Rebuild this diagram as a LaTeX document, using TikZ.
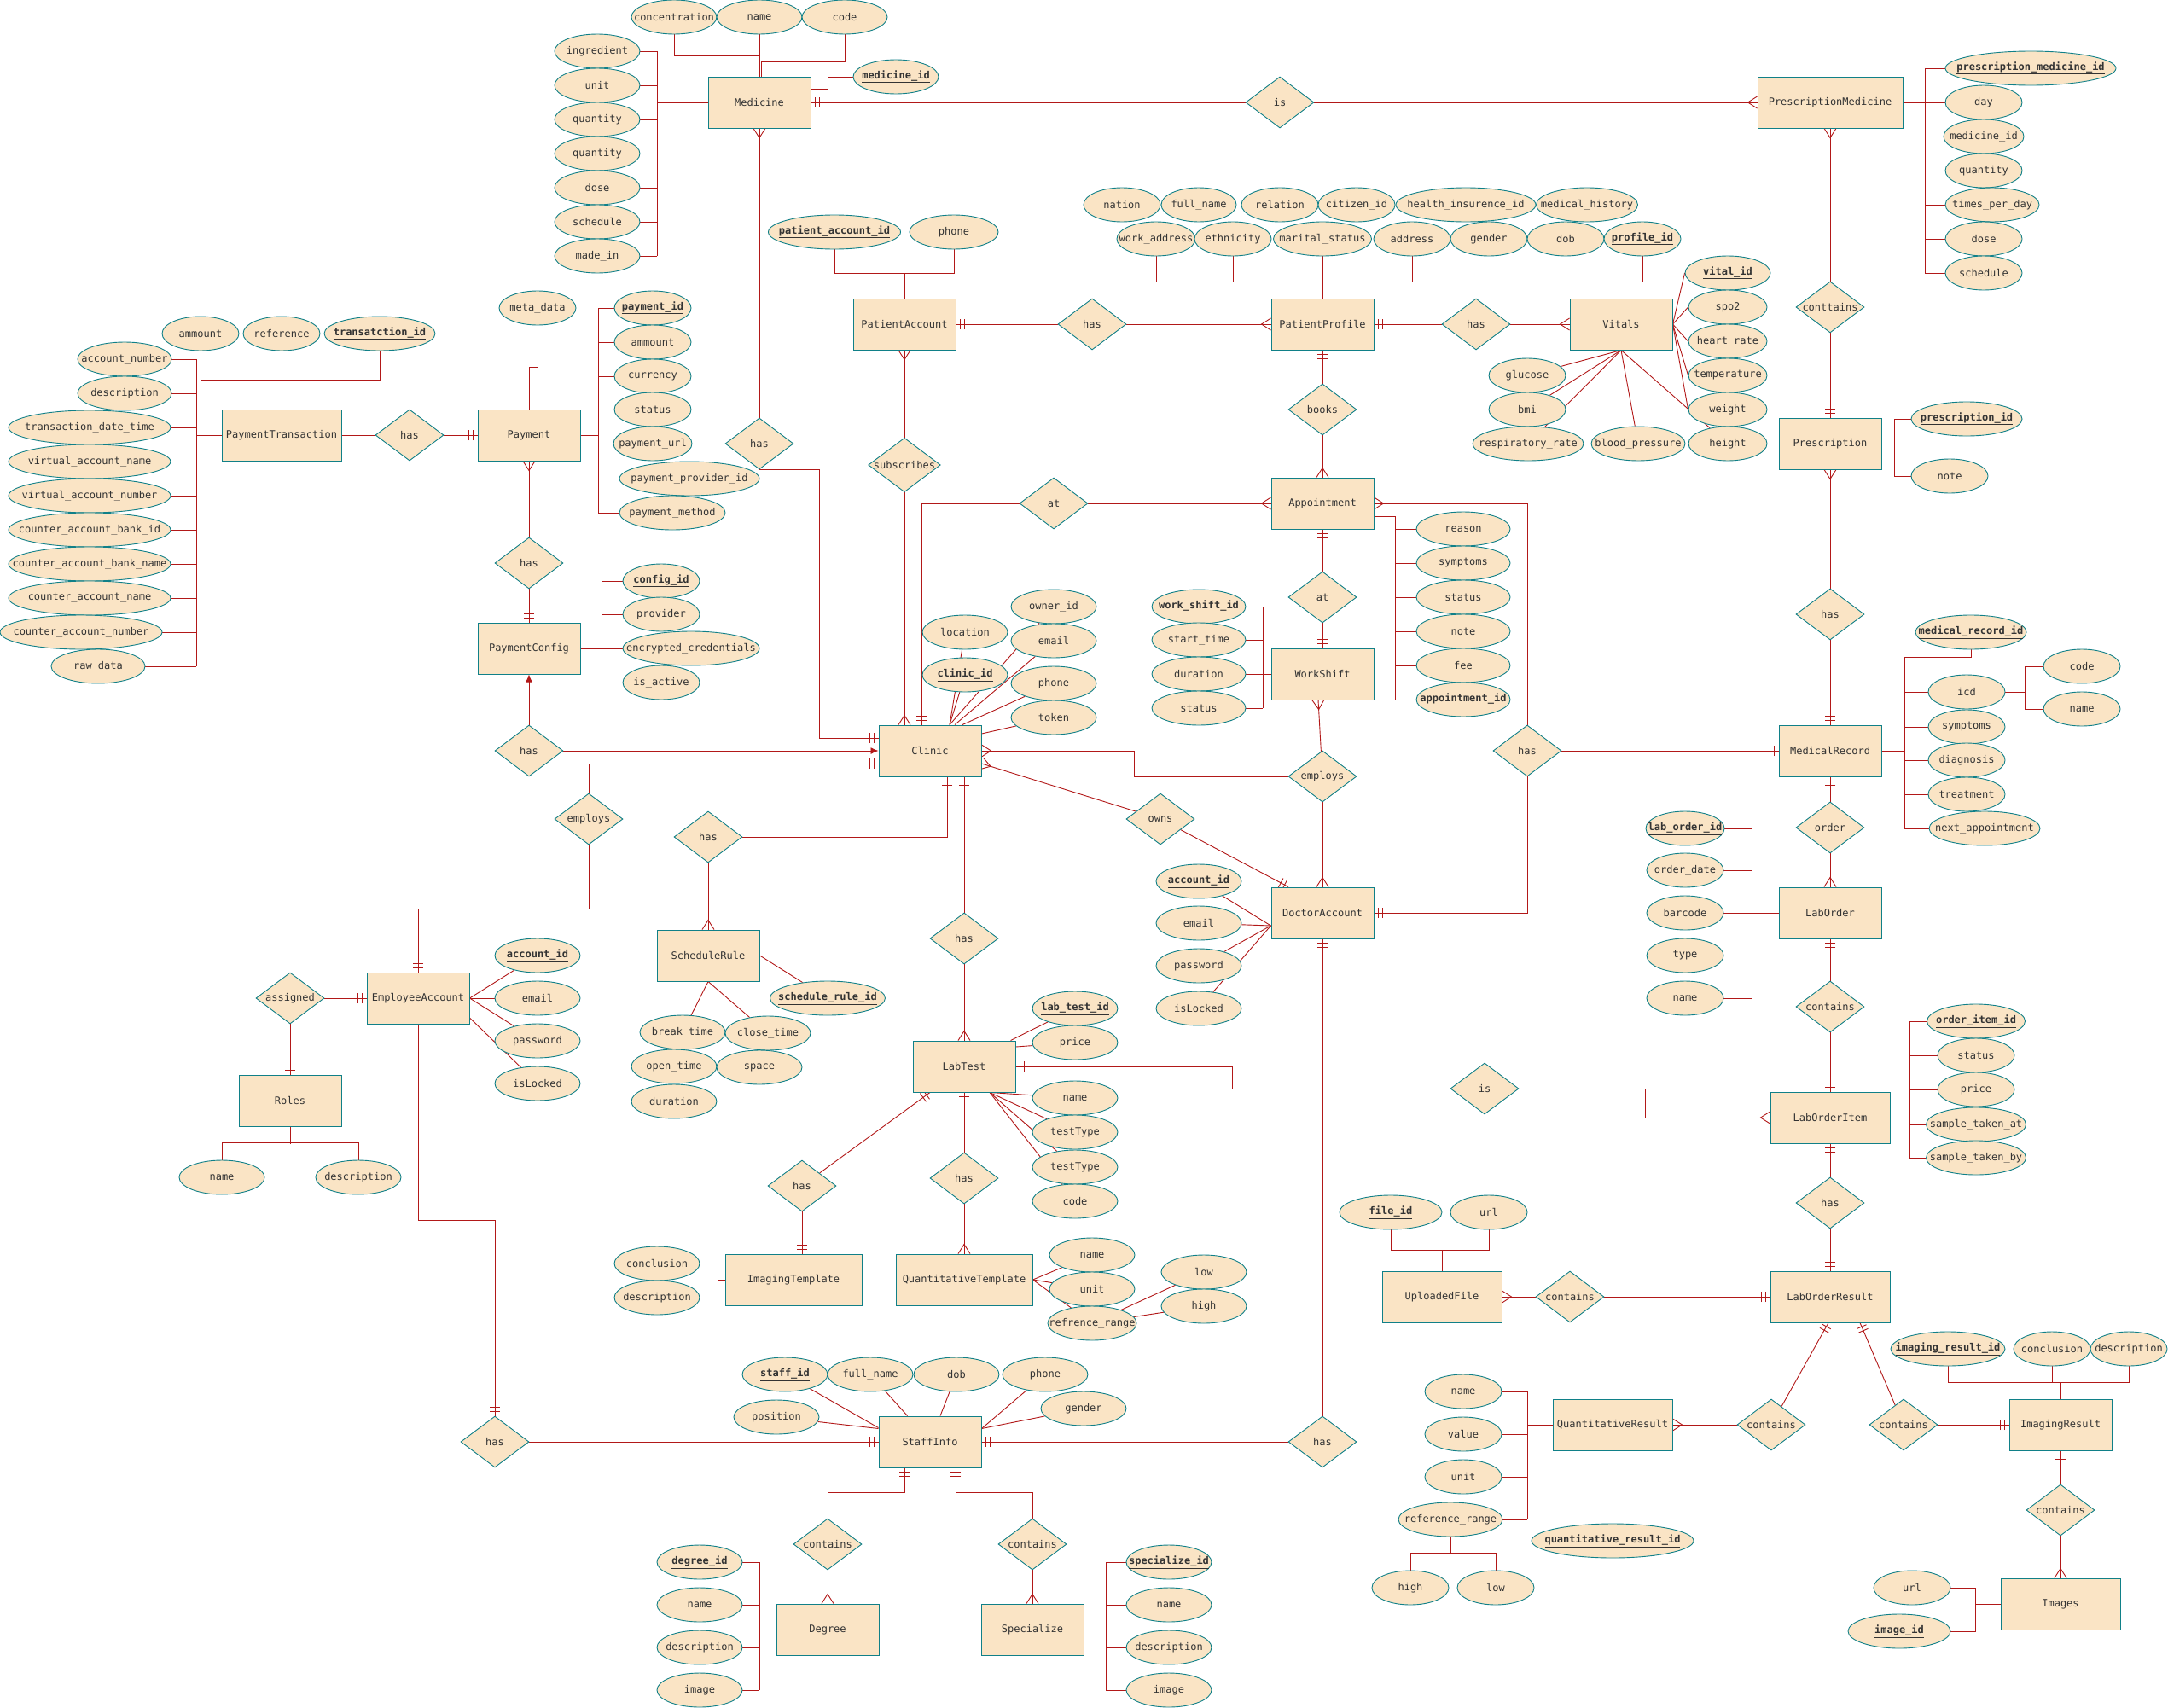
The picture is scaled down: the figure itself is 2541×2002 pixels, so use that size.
\documentclass[tikz,border=0pt]{standalone}
\usepackage{fontspec}
\usepackage{tikz}
\newfontfamily\ermono{DejaVu Sans Mono}
\definecolor{erfill}{RGB}{250,228,197}
\definecolor{erteal}{RGB}{16,128,136}
\definecolor{erred}{RGB}{178,24,24}
\definecolor{ertext}{RGB}{51,51,51}
\usetikzlibrary{shapes.geometric, arrows.meta, backgrounds}

\newcommand{\tx}[1]{\hbox to 0pt{\hss#1\hss}}
\newcommand{\pk}[1]{\underline{\textbf{#1}}}

% one and only one
\pgfdeclarearrow{
  name = erone,
  setup code = {
    \pgfarrowssettipend{0pt}
    \pgfarrowssetlineend{0pt}
    \pgfarrowssetbackend{-12pt}
  },
  drawing code = {
    \pgfsetdash{}{0pt}
    \pgfpathmoveto{\pgfqpoint{-5pt}{-6pt}}
    \pgfpathlineto{\pgfqpoint{-5pt}{6pt}}
    \pgfpathmoveto{\pgfqpoint{-10pt}{-6pt}}
    \pgfpathlineto{\pgfqpoint{-10pt}{6pt}}
    \pgfusepathqstroke
  }
}
% many
\pgfdeclarearrow{
  name = ermany,
  setup code = {
    \pgfarrowssettipend{0pt}
    \pgfarrowssetlineend{0pt}
    \pgfarrowssetbackend{-12pt}
  },
  drawing code = {
    \pgfsetdash{}{0pt}
    \pgfpathmoveto{\pgfqpoint{0pt}{-7pt}}
    \pgfpathlineto{\pgfqpoint{-11pt}{0pt}}
    \pgfpathlineto{\pgfqpoint{0pt}{7pt}}
    \pgfusepathqstroke
  }
}

\begin{document}
\begin{tikzpicture}[x=1pt, y=-1pt,
    every node/.style={font=\ermono\fontsize{12pt}{14pt}\selectfont, text=ertext},
    ent/.style={rectangle, draw=erteal, fill=erfill, line width=1pt, minimum width=120, minimum height=60, inner sep=2pt},
    attr/.style={ellipse, draw=erteal, fill=erfill, line width=0.9pt, minimum width=90, minimum height=40, inner sep=0pt},
    rel/.style={diamond, aspect=1.333, draw=erteal, fill=erfill, line width=0.9pt, minimum width=80, minimum height=60, inner sep=0pt},
    ln/.style={draw=erred, line width=0.9pt},
    toarr/.style={-{Latex[length=9pt, width=8pt]}}]
    \path[use as bounding box] (0,0) rectangle (2541,2002);

    % Entities
    \node[ent] (med) at (890,120) {Medicine};
    \node[ent, minimum width=170] (pm) at (2145,120) {PrescriptionMedicine};
    \node[ent] (presc) at (2145,520) {Prescription};
    \node[ent] (pacc) at (1060,380) {PatientAccount};
    \node[ent] (pprof) at (1550,380) {PatientProfile};
    \node[ent] (vit) at (1900,380) {Vitals};
    \node[ent] (appt) at (1550,590) {Appointment};
    \node[ent] (ws) at (1550,790) {WorkShift};
    \node[ent] (clinic) at (1090,880) {Clinic};
    \node[ent] (docacc) at (1550,1070) {DoctorAccount};
    \node[ent, minimum width=140] (ptx) at (330,510) {PaymentTransaction};
    \node[ent] (pay) at (620,510) {Payment};
    \node[ent] (paycfg) at (620,760) {PaymentConfig};
    \node[ent] (emp) at (490,1170) {EmployeeAccount};
    \node[ent] (roles) at (340,1290) {Roles};
    \node[ent] (srule) at (830,1120) {ScheduleRule};
    \node[ent] (labtest) at (1130,1250) {LabTest};
    \node[ent, minimum width=160] (imgT) at (930,1500) {ImagingTemplate};
    \node[ent, minimum width=160] (qtT) at (1130,1500) {QuantitativeTemplate};
    \node[ent] (staff) at (1090,1690) {StaffInfo};
    \node[ent] (deg) at (970,1910) {Degree};
    \node[ent] (spec) at (1210,1910) {Specialize};
    \node[ent] (mrec) at (2145,880) {MedicalRecord};
    \node[ent] (lord) at (2145,1070) {LabOrder};
    \node[ent, minimum width=140] (loi) at (2145,1310) {LabOrderItem};
    \node[ent, minimum width=140] (lres) at (2145,1520) {LabOrderResult};
    \node[ent, minimum width=140] (upf) at (1690,1520) {UploadedFile};
    \node[ent, minimum width=140] (qres) at (1890,1670) {QuantitativeResult};
    \node[ent] (ires) at (2415,1670) {ImagingResult};
    \node[ent, minimum width=140] (imgs) at (2415,1880) {Images};

    % Relationships
    \node[rel] (isPM) at (1500,120) {is};
    \node[rel] (hasMC) at (890,520) {has};
    \node[rel] (ctPM) at (2145,360) {conttains};
    \node[rel] (hasPR) at (2145,720) {has};
    \node[rel] (hasPP) at (1280,380) {has};
    \node[rel] (hasV) at (1730,380) {has};
    \node[rel] (books) at (1550,480) {books};
    \node[rel] (subs) at (1060,545) {subscribes};
    \node[rel] (atCA) at (1235,590) {at};
    \node[rel] (atWS) at (1550,700) {at};
    \node[rel] (empD) at (1550,910) {employs};
    \node[rel] (owns) at (1360,960) {owns};
    \node[rel] (hasMR) at (1790,880) {has};
    \node[rel] (hasSD) at (1550,1690) {has};
    \node[rel] (hasPT) at (480,510) {has};
    \node[rel] (hasPy) at (620,660) {has};
    \node[rel] (hasPC) at (620,880) {has};
    \node[rel] (empE) at (690,960) {employs};
    \node[rel] (hasSR) at (830,981) {has};
    \node[rel] (asg) at (340,1170) {assigned};
    \node[rel] (hasES) at (580,1690) {has};
    \node[rel] (hasLT) at (1130,1100) {has};
    \node[rel] (isLT) at (1740,1276) {is};
    \node[rel] (hasIT) at (940,1390) {has};
    \node[rel] (hasQT) at (1130,1381) {has};
    \node[rel] (ctDeg) at (970,1810) {contains};
    \node[rel] (ctSp) at (1210,1810) {contains};
    \node[rel] (ordD) at (2145,970) {order};
    \node[rel] (ctLO) at (2145,1180) {contains};
    \node[rel] (hasLR) at (2145,1410) {has};
    \node[rel] (ctUF) at (1840,1520) {contains};
    \node[rel] (ctQR) at (2076,1670) {contains};
    \node[rel] (ctIR) at (2231,1670) {contains};
    \node[rel] (ctIm) at (2415,1770) {contains};

    % Medicine attributes
    \foreach \nm/\lab/\x in {mc1/concentration/790, mc2/name/890, mc3/code/990}
        \node[attr, minimum width=100] (\nm) at (\x,20) {\tx{\lab}};
    \node[attr, minimum width=100] (mid) at (1050,90) {\tx{\pk{medicine\_id}}};
    \foreach \nm/\lab/\y in {ml1/ingredient/60, ml2/unit/100, ml3/quantity/140, ml4/quantity/180, ml5/dose/220, ml6/schedule/260, ml7/made\_in/300}
        \node[attr, minimum width=100] (\nm) at (700,\y) {\tx{\lab}};

    % PrescriptionMedicine / Prescription attributes
    \node[attr, minimum width=200] (pa1) at (2380,80) {\tx{\pk{prescription\_medicine\_id}}};
    \foreach \nm/\lab/\x/\y/\w in {pa2/day/2325/120/90, pa3/medicine\_id/2325/160/94, pa4/quantity/2325/200/90, pa5/times\_per\_day/2335/240/110, pa6/dose/2325/280/90, pa7/schedule/2325/320/90}
        \node[attr, minimum width=\w] (\nm) at (\x,\y) {\tx{\lab}};
    \node[attr, minimum width=130] (pr1) at (2305,491) {\tx{\pk{prescription\_id}}};
    \node[attr] (pr2) at (2285,558) {\tx{note}};

    % Patient attributes
    \node[attr, minimum width=155] (paid) at (978,272) {\tx{\pk{patient\_account\_id}}};
    \node[attr, minimum width=104] (paph) at (1118,272) {\tx{phone}};
    \foreach \nm/\lab/\x/\w in {pf1/nation/1315/90, pf2/full\_name/1405/88, pf3/relation/1500/90, pf4/citizen\_id/1590/90, pf5/health\_insurence\_id/1718/164, pf6/medical\_history/1860/119}
        \node[attr, minimum width=\w] (\nm) at (\x,240) {\tx{\lab}};
    \foreach \nm/\lab/\x/\w in {pg1/work\_address/1355/92, pg2/ethnicity/1445/90, pg3/marital\_status/1550/115, pg4/address/1655/90, pg5/gender/1745/90, pg6/dob/1835/90}
        \node[attr, minimum width=\w] (\nm) at (\x,280) {\tx{\lab}};
    \node[attr] (pg7) at (1925,280) {\tx{\pk{profile\_id}}};

    % Vitals attributes
    \node[attr, minimum width=100] (v1) at (2025,320) {\tx{\pk{vital\_id}}};
    \foreach \nm/\lab/\y in {v2/spo2/360, v3/heart\_rate/400, v4/temperature/440, v5/weight/480, v6/height/520}
        \node[attr, minimum width=92] (\nm) at (2025,\y) {\tx{\lab}};
    \foreach \nm/\lab/\x/\y/\w in {v7/glucose/1790/440/90, v8/bmi/1790/480/90, v9/respiratory\_rate/1791/520/130, v10/blood\_pressure/1920/520/110}
        \node[attr, minimum width=\w] (\nm) at (\x,\y) {\tx{\lab}};

    % Appointment / WorkShift attributes
    \foreach \nm/\lab/\y in {ap1/reason/620, ap2/symptoms/660, ap3/status/700, ap4/note/740, ap5/fee/780}
        \node[attr, minimum width=110] (\nm) at (1715,\y) {\tx{\lab}};
    \node[attr, minimum width=110] (ap6) at (1715,820) {\tx{\pk{appointment\_id}}};
    \node[attr, minimum width=110] (ws1) at (1405,711) {\tx{\pk{work\_shift\_id}}};
    \foreach \nm/\lab/\y in {ws2/start\_time/750, ws3/duration/790, ws4/status/830}
        \node[attr, minimum width=110] (\nm) at (1405,\y) {\tx{\lab}};

    % Clinic / DoctorAccount attributes
    \node[attr, minimum width=100] (cl1) at (1131,741) {\tx{location}};
    \node[attr, minimum width=100] (cl2) at (1131,791) {\tx{\pk{clinic\_id}}};
    \foreach \nm/\lab/\y in {cl3/owner\_id/711, cl4/email/751, cl5/phone/801, cl6/token/841}
        \node[attr, minimum width=100] (\nm) at (1235,\y) {\tx{\lab}};
    \node[attr, minimum width=100] (da1) at (1405,1033) {\tx{\pk{account\_id}}};
    \foreach \nm/\lab/\y in {da2/email/1082, da3/password/1132, da4/isLocked/1182}
        \node[attr, minimum width=100] (\nm) at (1405,\y) {\tx{\lab}};

    % Payment attributes
    \node[attr] (pt1) at (235,391) {\tx{ammount}};
    \node[attr] (pt2) at (330,391) {\tx{reference}};
    \node[attr, minimum width=130] (pt3) at (445,391) {\tx{\pk{transatction\_id}}};
    \foreach \nm/\lab/\x/\y/\w in {pl1/account\_number/146/421/110, pl2/description/146/461/110, pl3/transaction\_date\_time/105/501/190, pl4/virtual\_account\_name/105/541/190, pl5/virtual\_account\_number/105/581/190, pl6/counter\_account\_bank\_id/105/621/190, pl7/counter\_account\_bank\_name/105/661/190, pl8/counter\_account\_name/105/701/190, pl9/counter\_account\_number/95/741/190, pl10/raw\_data/115/781/110}
        \node[attr, minimum width=\w] (\nm) at (\x,\y) {\tx{\lab}};
    \node[attr] (py0) at (630,361) {\tx{meta\_data}};
    \node[attr] (py1) at (765,361) {\tx{\pk{payment\_id}}};
    \foreach \nm/\lab/\x/\y/\w in {py2/ammount/765/401/90, py3/currency/765/441/90, py4/status/765/480/90, py5/payment\_url/765/520/92, py6/payment\_provider\_id/808/561/164, py7/payment\_method/788/601/124}
        \node[attr, minimum width=\w] (\nm) at (\x,\y) {\tx{\lab}};
    \node[attr] (pc1) at (775,681) {\tx{\pk{config\_id}}};
    \foreach \nm/\lab/\x/\y/\w in {pc2/provider/775/720/90, pc3/encrypted\_credentials/810/760/160, pc4/is\_active/775/800/90}
        \node[attr, minimum width=\w] (\nm) at (\x,\y) {\tx{\lab}};

    % EmployeeAccount / Roles / ScheduleRule attributes
    \node[attr, minimum width=100] (ea1) at (630,1120) {\tx{\pk{account\_id}}};
    \foreach \nm/\lab/\y in {ea2/email/1170, ea3/password/1220, ea4/isLocked/1270}
        \node[attr, minimum width=100] (\nm) at (630,\y) {\tx{\lab}};
    \node[attr, minimum width=100] (ro1) at (260,1380) {\tx{name}};
    \node[attr, minimum width=100] (ro2) at (420,1380) {\tx{description}};
    \node[attr, minimum width=135] (sr1) at (970,1170) {\tx{\pk{schedule\_rule\_id}}};
    \foreach \nm/\lab/\x/\y in {sr2/break\_time/800/1210, sr3/close\_time/900/1211, sr4/open\_time/790/1250, sr5/space/890/1251, sr6/duration/790/1291}
        \node[attr, minimum width=100] (\nm) at (\x,\y) {\tx{\lab}};

    % LabTest and templates
    \node[attr, minimum width=100] (lt1) at (1260,1182) {\tx{\pk{lab\_test\_id}}};
    \foreach \nm/\lab/\y in {lt2/price/1222, lt3/name/1287, lt4/testType/1327, lt5/testType/1368, lt6/code/1408}
        \node[attr, minimum width=100] (\nm) at (1260,\y) {\tx{\lab}};
    \node[attr, minimum width=100] (im1) at (770,1481) {\tx{conclusion}};
    \node[attr, minimum width=100] (im2) at (770,1521) {\tx{description}};
    \foreach \nm/\lab/\x/\y/\w in {qt1/name/1280/1471/100, qt2/unit/1280/1511/100, qt3/refrence\_range/1280/1551/104, qt4/low/1411/1491/100, qt5/high/1411/1531/100}
        \node[attr, minimum width=\w] (\nm) at (\x,\y) {\tx{\lab}};

    % StaffInfo / Degree / Specialize attributes
    \node[attr, minimum width=100] (st1) at (920,1611) {\tx{\pk{staff\_id}}};
    \foreach \nm/\lab/\x/\y in {st2/full\_name/1020/1611, st3/dob/1121/1611, st4/phone/1225/1611, st5/gender/1270/1651, st6/position/910/1661}
        \node[attr, minimum width=100] (\nm) at (\x,\y) {\tx{\lab}};
    \node[attr, minimum width=100] (dg1) at (820,1831) {\tx{\pk{degree\_id}}};
    \foreach \nm/\lab/\y in {dg2/name/1881, dg3/description/1931, dg4/image/1981}
        \node[attr, minimum width=100] (\nm) at (820,\y) {\tx{\lab}};
    \node[attr, minimum width=100] (sp1) at (1370,1831) {\tx{\pk{specialize\_id}}};
    \foreach \nm/\lab/\y in {sp2/name/1881, sp3/description/1931, sp4/image/1981}
        \node[attr, minimum width=100] (\nm) at (1370,\y) {\tx{\lab}};

    % MedicalRecord / LabOrder attributes
    \node[attr, minimum width=130] (mr1) at (2310,741) {\tx{\pk{medical\_record\_id}}};
    \foreach \nm/\lab/\x/\y/\w in {mr2/icd/2305/811/90, mr3/symptoms/2305/852/90, mr4/diagnosis/2305/891/90, mr5/treatment/2305/931/90, mr6/next\_appointment/2326/971/130}
        \node[attr, minimum width=\w] (\nm) at (\x,\y) {\tx{\lab}};
    \node[attr] (ic1) at (2440,781) {\tx{code}};
    \node[attr] (ic2) at (2440,831) {\tx{name}};
    \node[attr, minimum width=92] (lo1) at (1975,971) {\tx{\pk{lab\_order\_id}}};
    \foreach \nm/\lab/\y in {lo2/order\_date/1020, lo3/barcode/1070, lo4/type/1120, lo5/name/1170}
        \node[attr] (\nm) at (1975,\y) {\tx{\lab}};
    \node[attr, minimum width=115] (li1) at (2316,1197) {\tx{\pk{order\_item\_id}}};
    \foreach \nm/\lab/\y/\w in {li2/status/1237/90, li3/price/1277/90, li4/sample\_taken\_at/1318/117, li5/sample\_taken\_by/1357/117}
        \node[attr, minimum width=\w] (\nm) at (2316,\y) {\tx{\lab}};

    % Result attributes
    \node[attr, minimum width=120] (uf1) at (1630,1421) {\tx{\pk{file\_id}}};
    \node[attr] (uf2) at (1745,1421) {\tx{url}};
    \foreach \nm/\lab/\x/\y/\w in {qr1/name/1715/1631/90, qr2/value/1715/1681/90, qr3/unit/1715/1731/90, qr4/reference\_range/1700/1781/122, qr5/high/1653/1861/90, qr6/low/1753/1861/90}
        \node[attr, minimum width=\w] (\nm) at (\x,\y) {\tx{\lab}};
    \node[attr, minimum width=190] (qr7) at (1890,1806) {\tx{\pk{quantitative\_result\_id}}};
    \node[attr, minimum width=134] (ir1) at (2283,1581) {\tx{\pk{imaging\_result\_id}}};
    \node[attr] (ir2) at (2405,1581) {\tx{conclusion}};
    \node[attr] (ir3) at (2495,1581) {\tx{description}};
    \node[attr] (ig1) at (2241,1861) {\tx{url}};
    \node[attr, minimum width=120] (ig2) at (2226,1912) {\tx{\pk{image\_id}}};

    % Connectors
    \begin{scope}[on background layer]
        \fill[white] (0,0) rectangle (2541,2002);

        % Medicine
        \coordinate (medbr) at (770,120);
        \foreach \nm in {ml1,ml2,ml3,ml4,ml5,ml6,ml7}
            \draw[ln] (\nm.east) -- (\nm.east -| medbr);
        \draw[ln] (ml1.east -| medbr) -- (ml7.east -| medbr);
        \draw[ln] (medbr) -- (med.west);
        \draw[ln] (mc1.south) -- ++(0,25) -| (med.north);
        \draw[ln] (mc2) -- (med);
        \draw[ln] (mc3.south) -- ++(0,32) -| ([xshift=2pt]med.north);
        \draw[ln] ([yshift=16pt]med.east) -- ++(20,0) |- (mid.west);
        \draw[ln, -erone] (isPM) -- (med);
        \draw[ln, -ermany] (isPM) -- (pm);
        \draw[ln, -ermany] (hasMC) -- (med);
        \draw[ln, -erone] (hasMC.south) -- ++(70,0) |- ([yshift=15pt]clinic.west);

        % PrescriptionMedicine / Prescription
        \coordinate (pmbr) at (2256,120);
        \draw[ln] (pm.east) -- (pmbr);
        \foreach \nm in {pa1,pa2,pa3,pa4,pa5,pa6,pa7}
            \draw[ln] (\nm.west) -- (\nm.west -| pmbr);
        \draw[ln] (pa1.west -| pmbr) -- (pa7.west -| pmbr);
        \draw[ln, -ermany] (ctPM) -- (pm);
        \draw[ln, -erone] (ctPM) -- (presc);
        \draw[ln] (presc.east) -- ++(15,0) |- (pr1.west);
        \draw[ln] (presc.east) -- ++(15,0) |- (pr2.west);
        \draw[ln, -ermany] (hasPR) -- (presc);
        \draw[ln, -erone] (hasPR) -- (mrec);

        % Patient
        \draw[ln] (paid.south) -- ++(0,28) -| (paph.south);
        \draw[ln] (pacc.north) -- ++(0,-30);
        \draw[ln, -erone] (hasPP) -- (pacc);
        \draw[ln, -ermany] (hasPP) -- (pprof);
        \draw[ln] (pg1.south) -- ++(0,30) -| (pg7.south);
        \foreach \nm in {pg2,pg4,pg6}
            \draw[ln] (\nm.south) -- ++(0,30);
        \draw[ln] (pg3) -- (pprof);
        \draw[ln, -erone] (hasV) -- (pprof);
        \draw[ln, -ermany] (hasV) -- (vit);
        \foreach \nm in {v1,v2,v3,v4,v5}
            \draw[ln] (vit.east) -- (\nm.west);
        \foreach \nm in {v6,v7,v8,v9,v10}
            \draw[ln] (vit.south) -- (\nm);

        % Appointment / WorkShift / DoctorAccount
        \draw[ln, -erone] (books) -- (pprof);
        \draw[ln, -ermany] (books) -- (appt);
        \draw[ln, -ermany] (atCA) -- (appt);
        \draw[ln, -erone] (atCA.west) -| ([xshift=-10pt]clinic.north);
        \draw[ln, -ermany] (subs) -- (pacc);
        \draw[ln, -ermany] (subs) -- ([xshift=-30pt]clinic.north);
        \coordinate (apbr) at (1635,605);
        \draw[ln] ([yshift=-15pt]appt.east) -- (apbr);
        \foreach \nm in {ap1,ap2,ap3,ap4,ap5,ap6}
            \draw[ln] (\nm.west) -- (\nm.west -| apbr);
        \draw[ln] (apbr) -- (ap6.west -| apbr);
        \draw[ln, -erone] (atWS) -- (appt);
        \draw[ln, -erone] (atWS) -- (ws);
        \coordinate (wsbr) at (1480,790);
        \draw[ln] (ws.west) -- (wsbr);
        \foreach \nm in {ws1,ws2,ws3,ws4}
            \draw[ln] (\nm.east) -- (\nm.east -| wsbr);
        \draw[ln] (ws1.east -| wsbr) -- (ws4.east -| wsbr);
        \draw[ln, -ermany] (empD) -- ([xshift=-5pt]ws.south);
        \draw[ln, -ermany] (empD) -- (docacc);
        \draw[ln, -ermany] (empD.west) -- ++(-180,0) |- (clinic.east);
        \draw[ln, -ermany] (hasMR.north) |- (appt.east);
        \draw[ln, -erone] (hasMR) -- (mrec);
        \draw[ln, -erone] (hasMR.south) |- (docacc.east);
        \draw[ln, -ermany] (owns) -- ([yshift=-15pt]clinic.east);
        \draw[ln, -erone] (owns) -- ([xshift=-40pt]docacc.north);
        \foreach \nm in {da1,da2,da3,da4}
            \draw[ln] ([yshift=-15pt]docacc.west) -- (\nm);
        \draw[ln, -erone] (hasSD) -- (docacc);
        \draw[ln, -erone] (hasSD) -- (staff);

        % Clinic
        \foreach \nm in {cl1,cl2,cl3}
            \draw[ln] ([xshift=23pt]clinic.north) -- (\nm);
        \draw[ln] ([xshift=29pt]clinic.north) -- (cl4);
        \draw[ln] ([xshift=38pt]clinic.north) -- (cl5);
        \draw[ln] ([yshift=20pt]clinic.east) -- (cl6);
        \draw[ln, -erone] (hasSR.east) -| ([xshift=20pt]clinic.south);
        \draw[ln, -erone] (hasLT) -- ([xshift=40pt]clinic.south);
        \draw[ln, -ermany] (hasLT) -- (labtest);
        \draw[ln, toarr] (hasPC) -- (clinic);
        \draw[ln, toarr] (hasPC) -- (paycfg);
        \draw[ln, -erone] (empE.north) |- ([yshift=-15pt]clinic.west);
        \draw[ln, -erone] (empE.south) -- ++(0,75) -| (emp.north);

        % Payment
        \draw[ln] (ptx) -- (hasPT);
        \draw[ln, -erone] (hasPT) -- (pay);
        \draw[ln] (pt1.south) -- ++(0,34) -| (pt3.south);
        \draw[ln] (pt2) -- (ptx);
        \coordinate (ptbr) at (230,510);
        \draw[ln] (ptx.west) -- (ptbr);
        \foreach \nm in {pl1,pl2,pl3,pl4,pl5,pl6,pl7,pl8,pl9,pl10}
            \draw[ln] (\nm.east) -- (\nm.east -| ptbr);
        \draw[ln] (pl1.east -| ptbr) -- (pl10.east -| ptbr);
        \draw[ln] (py0.south) -- ++(0,49) -| (pay.north);
        \coordinate (paybr) at (701,510);
        \draw[ln] (pay.east) -- (paybr);
        \foreach \nm in {py1,py2,py3,py4,py5,py6,py7}
            \draw[ln] (\nm.west) -- (\nm.west -| paybr);
        \draw[ln] (py1.west -| paybr) -- (py7.west -| paybr);
        \draw[ln, -ermany] (hasPy) -- (pay);
        \draw[ln, -erone] (hasPy) -- (paycfg);
        \coordinate (pcbr) at (705,760);
        \draw[ln] (paycfg.east) -- (pcbr);
        \foreach \nm in {pc1,pc2,pc3,pc4}
            \draw[ln] (\nm.west) -- (\nm.west -| pcbr);
        \draw[ln] (pc1.west -| pcbr) -- (pc4.west -| pcbr);

        % EmployeeAccount / Roles / ScheduleRule
        \foreach \nm in {ea1,ea2,ea3}
            \draw[ln] (emp.east) -- (\nm);
        \draw[ln] ([yshift=-23pt]emp.east) -- (ea4);
        \draw[ln, -erone] (asg) -- (emp);
        \draw[ln, -erone] (asg) -- (roles);
        \draw[ln] (roles.south) -- ++(0,20);
        \draw[ln] (ro1.north) -- ++(0,-20) -| (ro2.north);
        \draw[ln, -erone] (emp.south) -- ++(0,230) -| (hasES.north);
        \draw[ln, -erone] (hasES) -- (staff);
        \draw[ln, -ermany] (hasSR) -- (srule);
        \draw[ln] (srule.east) -- (sr1);
        \draw[ln] (srule.south) -- (sr2);
        \draw[ln] (srule.south) -- (sr3);

        % LabTest
        \draw[ln] ([xshift=-6pt]labtest.north east) -- (lt1);
        \draw[ln] ([yshift=23pt]labtest.east) -- (lt2);
        \foreach \nm in {lt3,lt4,lt5,lt6}
            \draw[ln] ([xshift=30pt]labtest.south) -- (\nm);
        \draw[ln, -erone] (isLT.west) -- ++(-255,0) |- (labtest.east);
        \draw[ln, -ermany] (isLT.east) -- ++(148,0) |- (loi.west);
        \draw[ln, -erone] (hasIT) -- ([xshift=-40pt]labtest.south);
        \draw[ln, -erone] (hasIT) -- (hasIT |- imgT.north);
        \draw[ln] (im1.east) -- ++(21,0) |- (imgT.west);
        \draw[ln] (im2.east) -- ++(21,0) |- (imgT.west);
        \draw[ln, -erone] (hasQT) -- (labtest);
        \draw[ln, -ermany] (hasQT) -- (qtT);
        \foreach \nm in {qt1,qt2,qt3}
            \draw[ln] (qtT.east) -- (\nm);
        \draw[ln] (qt3) -- (qt4);
        \draw[ln] (qt3) -- (qt5);

        % StaffInfo / Degree / Specialize
        \draw[ln] ([yshift=-14pt]staff.north west) -- (st1);
        \draw[ln] ([xshift=34pt]staff.north west) -- (st2);
        \draw[ln] ([xshift=12pt]staff.north) -- (st3);
        \draw[ln] ([yshift=-15pt]staff.north east) -- (st4);
        \draw[ln] ([yshift=-15pt]staff.north east) -- (st5);
        \draw[ln] ([yshift=-15pt]staff.north west) -- (st6);
        \draw[ln, -erone] (ctDeg.north) -- ++(0,-30) -| ([xshift=-30pt]staff.south);
        \draw[ln, -ermany] (ctDeg) -- (deg);
        \draw[ln, -erone] (ctSp.north) -- ++(0,-30) -| ([xshift=30pt]staff.south);
        \draw[ln, -ermany] (ctSp) -- (spec);
        \coordinate (dgbr) at (890,1910);
        \draw[ln] (deg.west) -- (dgbr);
        \foreach \nm in {dg1,dg2,dg3,dg4}
            \draw[ln] (\nm.east) -- (\nm.east -| dgbr);
        \draw[ln] (dg1.east -| dgbr) -- (dg4.east -| dgbr);
        \coordinate (spbr) at (1296,1910);
        \draw[ln] (spec.east) -- (spbr);
        \foreach \nm in {sp1,sp2,sp3,sp4}
            \draw[ln] (\nm.west) -- (\nm.west -| spbr);
        \draw[ln] (sp1.west -| spbr) -- (sp4.west -| spbr);

        % MedicalRecord / LabOrder / LabOrderItem
        \coordinate (mrbr) at (2232,880);
        \draw[ln] (mrec.east) -- (mrbr);
        \draw[ln] (mr1.south) -- ++(0,9) -| (mrbr);
        \foreach \nm in {mr2,mr3,mr4,mr5,mr6}
            \draw[ln] (\nm.west) -- (\nm.west -| mrbr);
        \draw[ln] (mr2.west -| mrbr) -- (mr6.west -| mrbr);
        \draw[ln] (mr2.east) -- ++(23,0) |- (ic1.west);
        \draw[ln] (mr2.east) -- ++(23,0) |- (ic2.west);
        \draw[ln, -erone] (ordD) -- (mrec);
        \draw[ln, -ermany] (ordD) -- (lord);
        \coordinate (lobr) at (2053,1070);
        \draw[ln] (lord.west) -- (lobr);
        \foreach \nm in {lo1,lo2,lo3,lo4,lo5}
            \draw[ln] (\nm.east) -- (\nm.east -| lobr);
        \draw[ln] (lo1.east -| lobr) -- (lo5.east -| lobr);
        \draw[ln, -erone] (ctLO) -- (lord);
        \draw[ln, -erone] (ctLO) -- (loi);
        \coordinate (libr) at (2238,1310);
        \draw[ln] (loi.east) -- (libr);
        \foreach \nm in {li1,li2,li3,li4,li5}
            \draw[ln] (\nm.west) -- (\nm.west -| libr);
        \draw[ln] (li1.west -| libr) -- (li5.west -| libr);
        \draw[ln, -erone] (hasLR) -- (loi);
        \draw[ln, -erone] (hasLR) -- (lres);

        % LabOrderResult and results
        \draw[ln, -erone] (ctUF) -- (lres);
        \draw[ln, -ermany] (ctUF) -- (upf);
        \draw[ln] (uf1.south) -- ++(0,24) -| (uf2.south);
        \draw[ln] (upf.north) -- ++(0,-25);
        \draw[ln, -erone] (ctQR) -- ([xshift=-2pt]lres.south);
        \draw[ln, -ermany] (ctQR) -- (qres);
        \coordinate (qrbr) at (1790,1670);
        \draw[ln] (qres.west) -- (qrbr);
        \foreach \nm in {qr1,qr2,qr3,qr4}
            \draw[ln] (\nm.east) -- (\nm.east -| qrbr);
        \draw[ln] (qr1.east -| qrbr) -- (qr4.east -| qrbr);
        \draw[ln] (qr4.south) -- ++(0,20);
        \draw[ln] (qr5.north) -- ++(0,-20) -| (qr6.north);
        \draw[ln] (qres) -- (qr7);
        \draw[ln, -erone] (ctIR) -- ([xshift=35pt]lres.south);
        \draw[ln, -erone] (ctIR) -- (ires);
        \draw[ln] (ir1.south) -- ++(0,19) -| (ir3.south);
        \draw[ln] (ir2.south) -- ++(0,19);
        \draw[ln] (ires.north) -- ++(0,-20);
        \draw[ln, -erone] (ctIm) -- (ires);
        \draw[ln, -ermany] (ctIm) -- (imgs);
        \coordinate (igbr) at (2315,1880);
        \draw[ln] (imgs.west) -- (igbr);
        \draw[ln] (ig1.east) -| (igbr);
        \draw[ln] (ig2.east) -| (igbr);
    \end{scope}
\end{tikzpicture}
\end{document}
